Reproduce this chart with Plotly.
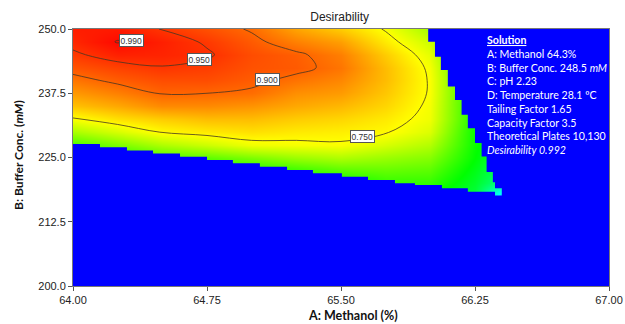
import numpy as np
import plotly.graph_objects as go

# ---------------- data ----------------
methanol = [64.00, 64.25, 64.50, 64.75, 65.00, 65.25, 65.50, 65.75, 66.00, 66.25, 66.50]
buffer_conc = [215.0, 217.5, 220.0, 222.5, 225.0, 227.5, 230.0, 232.5,
               235.0, 237.5, 240.0, 242.5, 245.0, 247.5, 250.0]

# desirability columns (one per methanol value, buffer ascending)
d_6400 = [0.20, 0.27, 0.33, 0.40, 0.48, 0.57, 0.665, 0.745, 0.81, 0.85, 0.885, 0.917, 0.943, 0.962, 0.972]
d_6425 = [0.22, 0.29, 0.36, 0.44, 0.53, 0.62, 0.71, 0.78, 0.835, 0.875, 0.91, 0.935, 0.968, 0.992, 0.975]
d_6450 = [0.25, 0.32, 0.40, 0.48, 0.57, 0.67, 0.755, 0.80, 0.865, 0.903, 0.925, 0.948, 0.965, 0.97, 0.948]
d_6475 = [0.28, 0.35, 0.42, 0.50, 0.59, 0.70, 0.77, 0.815, 0.865, 0.90, 0.925, 0.94, 0.955, 0.945, 0.922]
d_6500 = [0.30, 0.37, 0.45, 0.53, 0.62, 0.735, 0.78, 0.815, 0.855, 0.893, 0.91, 0.92, 0.925, 0.912, 0.895]
d_6525 = [0.32, 0.40, 0.48, 0.56, 0.65, 0.74, 0.77, 0.80, 0.835, 0.86, 0.888, 0.912, 0.908, 0.875, 0.84]
d_6550 = [0.34, 0.42, 0.50, 0.59, 0.67, 0.745, 0.765, 0.79, 0.82, 0.848, 0.868, 0.885, 0.876, 0.845, 0.80]
d_6575 = [0.38, 0.46, 0.55, 0.60, 0.65, 0.71, 0.755, 0.77, 0.79, 0.805, 0.815, 0.815, 0.80, 0.77, 0.745]
d_6600 = [0.42, 0.50, 0.55, 0.59, 0.63, 0.675, 0.715, 0.735, 0.74, 0.745, 0.745, 0.74, 0.725, 0.70, 0.66]
d_6625 = [0.40, 0.44, 0.46, 0.48, 0.50, 0.51, 0.51, 0.52, 0.52, 0.52, 0.52, 0.51, 0.50, 0.48, 0.45]
d_6650 = [0.05, 0.05, 0.30, 0.35, 0.38, 0.40, 0.40, 0.40, 0.40, 0.40, 0.40, 0.40, 0.40, 0.40, 0.40]

# infeasible-region boundary (blue area), read from the staircase
lower_x = [64.000, 64.151, 64.302, 64.448, 64.599, 64.750, 64.895, 65.046, 65.198,
           65.343, 65.505, 65.651, 65.802, 65.914, 66.065, 66.210, 66.362]
lower_y = [227.63, 226.98, 226.36, 225.78, 225.16, 224.51, 223.87, 223.21, 222.57,
           221.93, 221.26, 220.62, 219.98, 219.65, 219.00, 218.35, 217.60]
right_y = [217.60, 219.00, 220.20, 222.20, 225.20, 227.80, 230.70, 233.30,
           236.20, 238.80, 242.00, 244.60, 247.53, 250.00]
right_x = [66.400, 66.362, 66.350, 66.315, 66.287, 66.250, 66.210, 66.175,
           66.138, 66.098, 66.059, 66.026, 65.988]

contour_levels = [0.75, 0.90, 0.95, 0.99]
label_text = ["0.990", "0.950", "0.900", "0.750"]
label_x = [64.33, 64.71, 65.09, 65.62]
label_y = [247.86, 244.16, 240.08, 229.0]

x_ticks = [64.00, 64.75, 65.50, 66.25, 67.00]
y_ticks = [200.0, 212.5, 225.0, 237.5, 250.0]

solution_lines = ["<b><u>Solution</u></b>",
                  "A: Methanol 64.3%",
                  "B: Buffer Conc. 248.5 <i>mM</i>",
                  "C: pH 2.23",
                  "D: Temperature 28.1 ºC",
                  "Tailing Factor 1.65",
                  "Capacity Factor 3.5",
                  "Theoretical Plates 10,130",
                  "<i>Desirability 0.992</i>"]

# ---------------- figure ----------------
z = np.array([d_6400, d_6425, d_6450, d_6475, d_6500, d_6525,
              d_6550, d_6575, d_6600, d_6625, d_6650]).T

cscale = [[0.0, "rgb(0,0,255)"], [0.25, "rgb(0,255,255)"], [0.5, "rgb(0,255,0)"],
          [0.75, "rgb(255,255,0)"], [1.0, "rgb(255,0,0)"]]

X_RANGE = [64.0, 67.0]
Y_RANGE = [200.0, 250.0]

fig = go.Figure()
fig.add_trace(go.Heatmap(x=methanol, y=buffer_conc, z=z, zmin=0, zmax=1,
                         colorscale=cscale, zsmooth="best", showscale=False,
                         hoverinfo="skip"))
for lv in contour_levels:
    fig.add_trace(go.Contour(x=methanol, y=buffer_conc, z=z, autocontour=False,
                             contours=dict(start=lv, end=lv, size=1, coloring="none"),
                             line=dict(color="rgba(70,55,35,0.9)", width=0.9, smoothing=1),
                             showscale=False, hoverinfo="skip"))

# blue infeasible region
bx, by = [X_RANGE[0]], [Y_RANGE[0]]
for i in range(len(lower_x)):
    nx = lower_x[i + 1] if i + 1 < len(lower_x) else right_x[0]
    bx += [lower_x[i], nx]
    by += [lower_y[i], lower_y[i]]
for i in range(len(right_x)):
    bx += [right_x[i], right_x[i]]
    by += [right_y[i], right_y[i + 1]]
bx += [X_RANGE[1] + 0.1, X_RANGE[1] + 0.1]
by += [Y_RANGE[1] + 1, Y_RANGE[0]]
fig.add_trace(go.Scatter(x=bx, y=by, fill="toself", fillcolor="rgb(0,0,255)",
                         mode="lines", line=dict(width=0, color="rgb(0,0,255)"),
                         hoverinfo="skip", showlegend=False))

annotations = []
for t, x, y in zip(label_text, label_x, label_y):
    annotations.append(dict(x=x, y=y, xref="x", yref="y", text=t, showarrow=False,
                            font=dict(family="Liberation Sans, Arial", size=8.5, color="#333"),
                            bgcolor="white", bordercolor="#555", borderwidth=1, borderpad=0.5))

annotations.append(dict(x=0.768, y=0.988, xref="paper", yref="paper", xanchor="left",
                        yanchor="top", align="left", showarrow=False,
                        text="<br>".join(solution_lines),
                        font=dict(family="Lato, Noto Sans", size=10.6, color="white")))

annotations.append(dict(x=0.523, y=-0.1167, xref="paper", yref="paper", showarrow=False,
                        text="<b>A: Methanol (%)</b>", xanchor="center", yanchor="middle",
                        font=dict(family="Lato, Noto Sans", size=12.5, color="#111")))
annotations.append(dict(x=-0.1007, y=0.51, xref="paper", yref="paper", showarrow=False,
                        text="<b>B: Buffer Conc. (<i>mM</i>)</b>", textangle=-90,
                        xanchor="center", yanchor="middle",
                        font=dict(family="Lato, Noto Sans", size=12, color="#111")))

fig.update_layout(
    width=625, height=324,
    margin=dict(l=73, r=16, t=29, b=38, autoexpand=False),
    paper_bgcolor="white", plot_bgcolor="rgb(0,0,255)",
    showlegend=False,
    title=dict(text="Desirability", x=0.5434, xanchor="center", y=1 - 17 / 324,
               yanchor="middle",
               font=dict(family="Liberation Sans, Arial", size=12, color="#222")),
    annotations=annotations,
    xaxis=dict(range=X_RANGE, tickvals=x_ticks, ticktext=[f"{v:.2f}" for v in x_ticks],
               automargin=False,
               showgrid=False, zeroline=False, showline=True, linecolor="#777",
               linewidth=1, mirror=True, ticks="outside", ticklen=4, tickcolor="#555",
               tickfont=dict(family="Liberation Sans, Arial", size=11, color="#222")),
    yaxis=dict(range=Y_RANGE, tickvals=y_ticks, ticktext=[f"{v:.1f}" for v in y_ticks],
               automargin=False,
               showgrid=False, zeroline=False, showline=True, linecolor="#777",
               linewidth=1, mirror=True, ticks="outside", ticklen=4, tickcolor="#555",
               tickfont=dict(family="Liberation Sans, Arial", size=11, color="#222")),
)

fig.write_html("out.html")
